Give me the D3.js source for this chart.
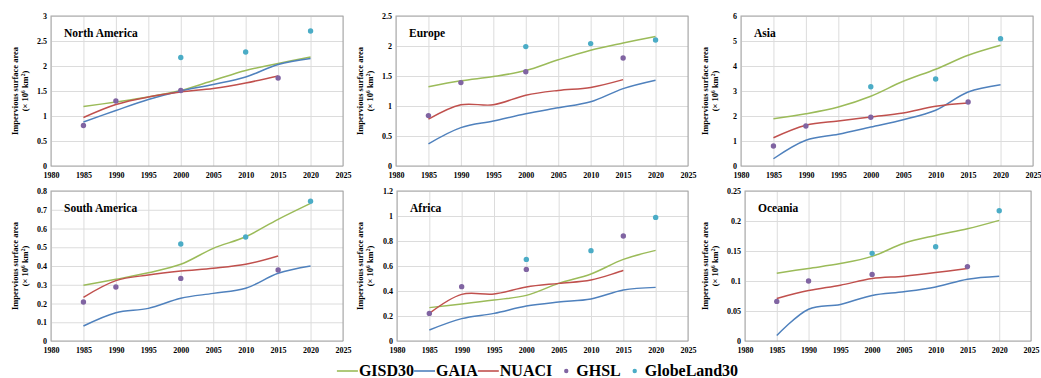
<!DOCTYPE html>
<html>
<head>
<meta charset="utf-8">
<script src="https://cdn.jsdelivr.net/npm/d3@7"></script>
<style>
  body { margin: 0; background: #fff; }
  text { font-family: "Liberation Serif", "Times New Roman", serif; font-weight: bold; fill: #000; }
</style>
</head>
<body>
<div id="chart"></div>
<script>
// regions (panel order: top row then bottom row)
const regions = ["North America", "Europe", "Asia", "South America", "Africa", "Oceania"];
const yMax = [3, 2.5, 6, 0.8, 1.2, 0.25];
const yStep = [0.5, 0.5, 1, 0.1, 0.2, 0.05];
const xTicks = [1980, 1985, 1990, 1995, 2000, 2005, 2010, 2015, 2020, 2025];

const lineYears = [1985, 1990, 1995, 2000, 2005, 2010, 2015, 2020];
const nuaciYears = [1985, 1990, 1995, 2000, 2005, 2010, 2015];
const ghslYears = [1985, 1990, 2000, 2015];
const globeYears = [2000, 2010, 2020];

// one row per region
const gisd30 = [
  [1.19, 1.28, 1.38, 1.51, 1.71, 1.91, 2.05, 2.18],
  [1.32, 1.42, 1.49, 1.59, 1.77, 1.93, 2.05, 2.16],
  [1.89, 2.09, 2.36, 2.79, 3.39, 3.87, 4.43, 4.83],
  [0.297, 0.329, 0.364, 0.409, 0.494, 0.556, 0.649, 0.734],
  [0.267, 0.296, 0.328, 0.365, 0.461, 0.536, 0.653, 0.725],
  [0.113, 0.121, 0.129, 0.141, 0.163, 0.176, 0.187, 0.201]
];
const gaia = [
  [0.88, 1.11, 1.33, 1.50, 1.63, 1.78, 2.03, 2.15],
  [0.37, 0.64, 0.75, 0.87, 0.97, 1.07, 1.29, 1.43],
  [0.29, 1.03, 1.27, 1.56, 1.85, 2.23, 2.96, 3.25],
  [0.08, 0.151, 0.174, 0.228, 0.254, 0.281, 0.361, 0.40],
  [0.088, 0.179, 0.221, 0.28, 0.312, 0.336, 0.408, 0.429],
  [0.009, 0.053, 0.061, 0.076, 0.082, 0.09, 0.103, 0.108]
];
const nuaci = [
  [0.97, 1.23, 1.38, 1.48, 1.55, 1.66, 1.80],
  [0.78, 1.02, 1.02, 1.18, 1.26, 1.31, 1.44],
  [1.13, 1.63, 1.80, 1.96, 2.12, 2.39, 2.52],
  [0.233, 0.322, 0.352, 0.373, 0.388, 0.409, 0.453],
  [0.221, 0.373, 0.376, 0.432, 0.461, 0.488, 0.565],
  [0.071, 0.084, 0.093, 0.104, 0.108, 0.114, 0.121]
];
const ghsl = [
  [0.81, 1.30, 1.51, 1.76],
  [0.84, 1.39, 1.57, 1.80],
  [0.80, 1.60, 1.95, 2.56],
  [0.208, 0.288, 0.334, 0.379],
  [0.221, 0.435, 0.573, 0.84],
  [0.066, 0.10, 0.111, 0.124]
];
const globeland30 = [
  [2.17, 2.28, 2.70],
  [1.99, 2.04, 2.10],
  [3.17, 3.48, 5.09],
  [0.517, 0.555, 0.745],
  [0.653, 0.723, 0.989],
  [0.146, 0.157, 0.217]
];

const legendNames = ["GISD30", "GAIA", "NUACI", "GHSL", "GlobeLand30"];
const colors = ["#9BBB59", "#4F81BD", "#C0504D", "#8064A2", "#4BACC6"];

const W = 1041, H = 378;
const plotH = 150;
const colStart = [0, 345, 690];
const plotLeft = [[51, 396, 741], [51, 397, 745]];
const plotWidth = [[292, 292, 292], [292, 291, 286]];
const plotTop = [16, 191];

const svg = d3.select("#chart").append("svg")
  .attr("width", W)
  .attr("height", H)
  .style("background", "#fff");

regions.forEach((name, i) => {
  const row = Math.floor(i / 3), col = i % 3;
  const left = plotLeft[row][col], top = plotTop[row];
  const plotW = plotWidth[row][col];

  const x = d3.scaleLinear().domain([1980, 2025]).range([left, left + plotW]);
  const y = d3.scaleLinear().domain([0, yMax[i]]).range([top + plotH, top]);
  const yTicks = d3.range(0, yMax[i] + yStep[i] / 2, yStep[i]).map(v => +v.toFixed(3));

  const g = svg.append("g");

  // gridlines via axes
  const xAxis = g.append("g")
    .attr("transform", `translate(0,${top + plotH})`)
    .call(d3.axisBottom(x).tickValues(xTicks).tickSize(-plotH).tickPadding(6).tickFormat(d3.format("d")));
  const yAxis = g.append("g")
    .attr("transform", `translate(${left},0)`)
    .call(d3.axisLeft(y).tickValues(yTicks).tickSize(-plotW).tickPadding(4).tickFormat(d => String(d)));

  [xAxis, yAxis].forEach(a => {
    a.select(".domain").remove();
    a.selectAll(".tick line").attr("stroke", "#dcdcdc").attr("stroke-width", 1);
    a.selectAll(".tick text")
      .style("font-family", '"Liberation Serif", serif')
      .style("font-weight", "bold")
      .style("font-size", "8px")
      .attr("fill", "#000");
  });

  g.append("rect")
    .attr("x", left).attr("y", top)
    .attr("width", plotW).attr("height", plotH)
    .attr("fill", "none")
    .attr("stroke", "#a6a6a6")
    .attr("stroke-width", 1);

  // y axis title
  const yl = g.append("text")
    .attr("transform", `translate(${colStart[col] + 15},${top + plotH / 2}) rotate(-90)`)
    .attr("text-anchor", "middle")
    .style("font-size", "8.5px");
  yl.append("tspan").attr("x", 0).attr("y", 3).text("Impervious surface area");
  const l2 = yl.append("tspan").attr("x", 0).attr("y", 13);
  l2.append("tspan").text("(\u00d7 10");
  l2.append("tspan").attr("dy", -3).style("font-size", "5.5px").text("6");
  l2.append("tspan").attr("dy", 3).text(" km");
  l2.append("tspan").attr("dy", -3).style("font-size", "5.5px").text("2");
  l2.append("tspan").attr("dy", 3).text(")");

  // region title
  g.append("text")
    .attr("x", left + 13)
    .attr("y", top + 21)
    .style("font-size", "11.5px")
    .text(name);

  const line = d3.line()
    .x(d => x(d[0]))
    .y(d => y(d[1]))
    .curve(d3.curveCatmullRom.alpha(0.5));

  const lines = [
    [lineYears, gisd30[i], colors[0]],
    [lineYears, gaia[i], colors[1]],
    [nuaciYears, nuaci[i], colors[2]]
  ];
  lines.forEach(([yrs, vals, c]) => {
    g.append("path")
      .datum(d3.zip(yrs, vals))
      .attr("fill", "none")
      .attr("stroke", c)
      .attr("stroke-width", 1.5)
      .attr("d", line);
  });

  const dots = [
    [ghslYears, ghsl[i], colors[3]],
    [globeYears, globeland30[i], colors[4]]
  ];
  dots.forEach(([yrs, vals, c]) => {
    g.selectAll(null)
      .data(d3.zip(yrs, vals))
      .enter()
      .append("circle")
      .attr("cx", d => x(d[0]))
      .attr("cy", d => y(d[1]))
      .attr("r", 2.7)
      .attr("fill", c);
  });
});

// legend
const legend = svg.append("g");
let cx = 0;
const legendY = 371;
legendNames.forEach((name, k) => {
  const isLine = k < 3;
  if (isLine) {
    legend.append("line")
      .attr("x1", cx).attr("x2", cx + 21)
      .attr("y1", legendY).attr("y2", legendY)
      .attr("stroke", colors[k]).attr("stroke-width", 1.6);
    cx += 22;
  } else {
    cx += 14;
    legend.append("circle")
      .attr("cx", cx).attr("cy", legendY)
      .attr("r", 2.2).attr("fill", colors[k]);
    cx += 10;
  }
  const t = legend.append("text")
    .attr("x", cx).attr("y", legendY + 5)
    .style("font-size", "16px")
    .text(name);
  cx += t.node().getComputedTextLength();
});
legend.attr("transform", `translate(${537.5 - cx / 2},0)`);
</script>
</body>
</html>
